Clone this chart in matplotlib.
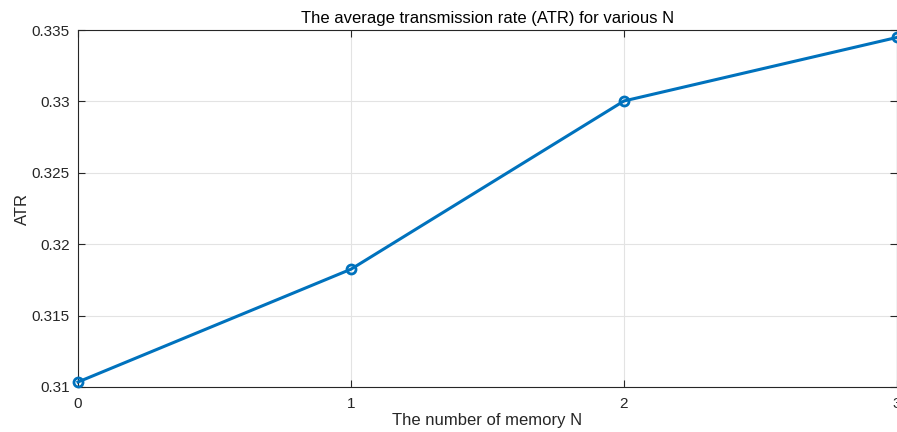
import matplotlib
matplotlib.use("Agg")
import matplotlib.pyplot as plt

plt.rcParams['font.family'] = ['Liberation Sans', 'DejaVu Sans']

N = [0, 1, 2, 3]
atr = [0.31035, 0.31825, 0.33003, 0.33448]
xticks = [0, 1, 2, 3]
yticks = [0.31, 0.315, 0.32, 0.325, 0.33, 0.335]
yticklabels = ['0.31', '0.315', '0.32', '0.325', '0.33', '0.335']

fig = plt.figure(figsize=(8.97, 4.32), dpi=100)
ax = fig.add_axes([78/897, 45/432, 1 - 78/897, (387-30)/432])

ax.plot(N, atr, color='#0072BD', linewidth=2.2, marker='o', markersize=6.5,
        markerfacecolor='none', markeredgewidth=2, clip_on=False, zorder=3)

ax.set_xlim(0, 3)
ax.set_ylim(0.31, 0.335)
ax.set_xticks(xticks)
ax.set_yticks(yticks)
ax.set_yticklabels(yticklabels)
ax.grid(True, color='#e3e3e3', linewidth=0.8)
ax.set_axisbelow(True)
ax.tick_params(direction='in', top=True, right=True, colors='#262626',
               labelsize=11, length=5, width=0.8)
ax.tick_params(axis='x', pad=7)
ax.tick_params(axis='y', pad=6)
for s in ax.spines.values():
    s.set_color('#262626')
    s.set_linewidth(0.8)

ax.set_title('The average transmission rate (ATR) for various N', fontsize=12,
             color='#000000', pad=5)
ax.set_xlabel('The number of memory N', fontsize=12, color='#262626', labelpad=2)
ax.set_ylabel('ATR', fontsize=12, color='#262626', labelpad=1)

fig.savefig('out.png', dpi=100)
